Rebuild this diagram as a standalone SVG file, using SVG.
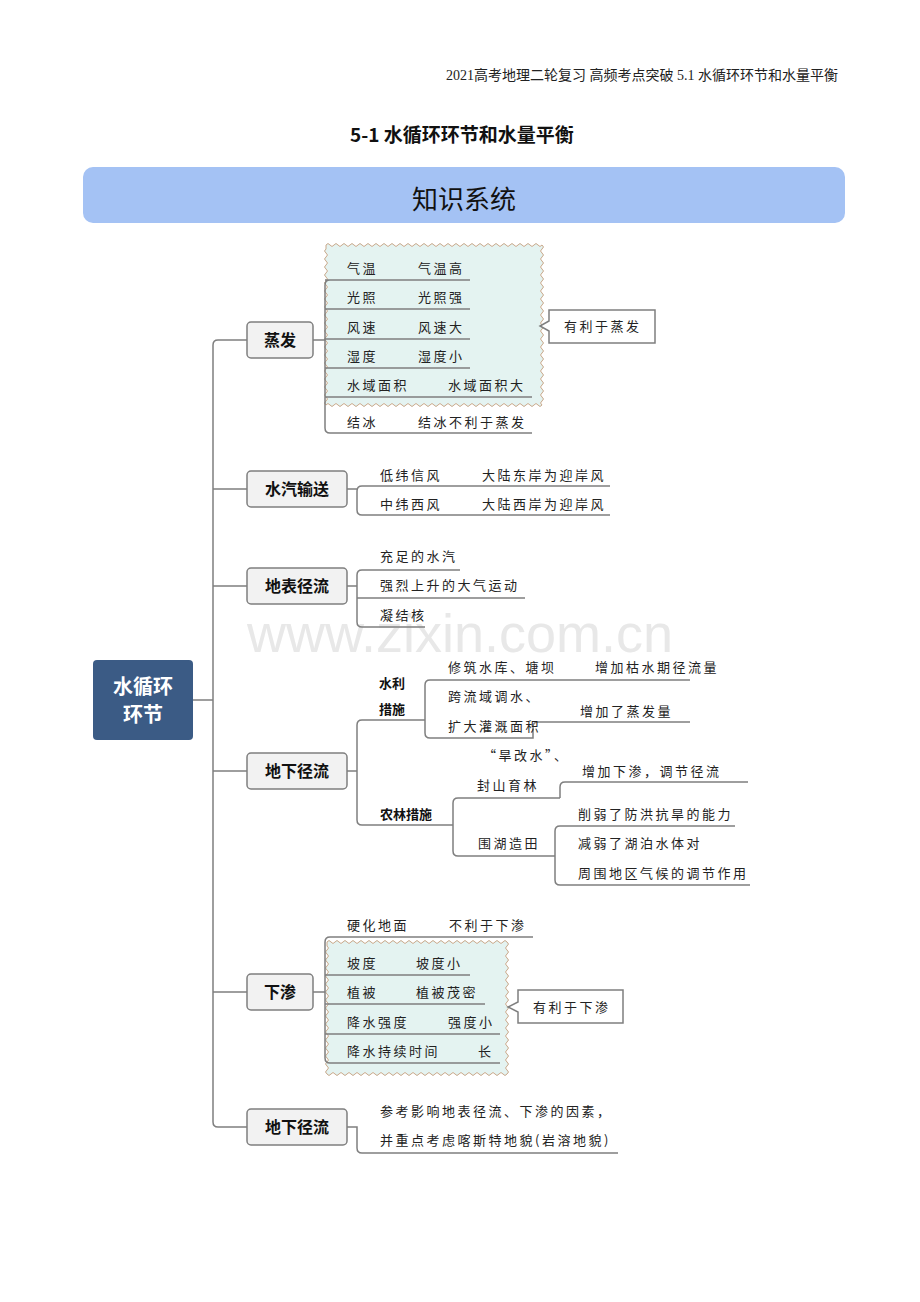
<svg xmlns="http://www.w3.org/2000/svg" width="920" height="1302" viewBox="0 0 920 1302">
<style>
.t{font-family:"Noto Sans CJK SC","Noto Sans CJK SC",sans-serif;font-size:13px;letter-spacing:2.5px;fill:#222}
.b{font-family:"Noto Sans CJK SC",sans-serif;font-size:16px;font-weight:bold;fill:#111;text-anchor:middle}
.bb{font-family:"Noto Sans CJK SC",sans-serif;font-size:13px;font-weight:bold;fill:#111}
.box{fill:#f2f2f2;stroke:#7f7f7f;stroke-width:1.5}
.ln{fill:none;stroke:#7f7f7f;stroke-width:1.5}
.wv{fill:#e4f3f1;stroke:#c9a88a;stroke-width:1}
.co{fill:#fff;stroke:#7f7f7f;stroke-width:1.5}
</style>
<rect width="920" height="1302" fill="#fff"/>
<text x="838" y="80" text-anchor="end" style="font-family:'Liberation Serif','Noto Sans CJK SC',serif;font-size:14px;fill:#222">2021高考地理二轮复习 高频考点突破 5.1 水循环环节和水量平衡</text>
<text x="462" y="142" text-anchor="middle" style="font-family:'Noto Sans CJK SC',sans-serif;font-size:19px;font-weight:bold;fill:#111">5-1   水循环环节和水量平衡</text>
<rect x="83" y="167" width="762" height="56" rx="10" fill="#a4c2f4"/>
<text x="464" y="209" text-anchor="middle" style="font-family:'Noto Sans CJK SC',sans-serif;font-size:26px;fill:#111">知识系统</text>
<text x="460" y="652" text-anchor="middle" style="font-family:'Liberation Sans',sans-serif;font-size:54px;fill:#e8e8e8">www.zixin.com.cn</text>

<g id="wave1"><path class="wv" d="M326,245 q2,-3 4,0 t4,0 t4,0 t4,0 t4,0 t4,0 t4,0 t4,0 t4,0 t4,0 t4,0 t4,0 t4,0 t4,0 t4,0 t4,0 t4,0 t4,0 t4,0 t4,0 t4,0 t4,0 t4,0 t4,0 t4,0 t4,0 t4,0 t4,0 t4,0 t4,0 t4,0 t4,0 t4,0 t4,0 t4,0 t4,0 t4,0 t4,0 t4,0 t4,0 t4,0 t4,0 t4,0 t4,0 t4,0 t4,0 t4,0 t4,0 t4,0 t4,0 t4,0 t4,0 t4,0 t4,0 q3,2 0,4 t0,4 t0,4 t0,4 t0,4 t0,4 t0,4 t0,4 t0,4 t0,4 t0,4 t0,4 t0,4 t0,4 t0,4 t0,4 t0,4 t0,4 t0,4 t0,4 t0,4 t0,4 t0,4 t0,4 t0,4 t0,4 t0,4 t0,4 t0,4 t0,4 t0,4 t0,4 t0,4 t0,4 t0,4 t0,4 t0,4 t0,4 t0,4 t0,4 q-2,3 -4,0 t-4,0 t-4,0 t-4,0 t-4,0 t-4,0 t-4,0 t-4,0 t-4,0 t-4,0 t-4,0 t-4,0 t-4,0 t-4,0 t-4,0 t-4,0 t-4,0 t-4,0 t-4,0 t-4,0 t-4,0 t-4,0 t-4,0 t-4,0 t-4,0 t-4,0 t-4,0 t-4,0 t-4,0 t-4,0 t-4,0 t-4,0 t-4,0 t-4,0 t-4,0 t-4,0 t-4,0 t-4,0 t-4,0 t-4,0 t-4,0 t-4,0 t-4,0 t-4,0 t-4,0 t-4,0 t-4,0 t-4,0 t-4,0 t-4,0 t-4,0 t-4,0 t-4,0 t-4,0 q-3,-2 0,-4 t0,-4 t0,-4 t0,-4 t0,-4 t0,-4 t0,-4 t0,-4 t0,-4 t0,-4 t0,-4 t0,-4 t0,-4 t0,-4 t0,-4 t0,-4 t0,-4 t0,-4 t0,-4 t0,-4 t0,-4 t0,-4 t0,-4 t0,-4 t0,-4 t0,-4 t0,-4 t0,-4 t0,-4 t0,-4 t0,-4 t0,-4 t0,-4 t0,-4 t0,-4 t0,-4 t0,-4 t0,-4 t0,-4 Z"/></g>
<g id="wave2"><path class="wv" d="M327,942 q2,-3 4,0 t4,0 t4,0 t4,0 t4,0 t4,0 t4,0 t4,0 t4,0 t4,0 t4,0 t4,0 t4,0 t4,0 t4,0 t4,0 t4,0 t4,0 t4,0 t4,0 t4,0 t4,0 t4,0 t4,0 t4,0 t4,0 t4,0 t4,0 t4,0 t4,0 t4,0 t4,0 t4,0 t4,0 t4,0 t4,0 t4,0 t4,0 t4,0 t4,0 t4,0 t4,0 t4,0 t4,0 t4,0 q3,2 0,4 t0,4 t0,4 t0,4 t0,4 t0,4 t0,4 t0,4 t0,4 t0,4 t0,4 t0,4 t0,4 t0,4 t0,4 t0,4 t0,4 t0,4 t0,4 t0,4 t0,4 t0,4 t0,4 t0,4 t0,4 t0,4 t0,4 t0,4 t0,4 t0,4 t0,4 t0,4 t0,4 q-2,3 -4,0 t-4,0 t-4,0 t-4,0 t-4,0 t-4,0 t-4,0 t-4,0 t-4,0 t-4,0 t-4,0 t-4,0 t-4,0 t-4,0 t-4,0 t-4,0 t-4,0 t-4,0 t-4,0 t-4,0 t-4,0 t-4,0 t-4,0 t-4,0 t-4,0 t-4,0 t-4,0 t-4,0 t-4,0 t-4,0 t-4,0 t-4,0 t-4,0 t-4,0 t-4,0 t-4,0 t-4,0 t-4,0 t-4,0 t-4,0 t-4,0 t-4,0 t-4,0 t-4,0 t-4,0 q-3,-2 0,-4 t0,-4 t0,-4 t0,-4 t0,-4 t0,-4 t0,-4 t0,-4 t0,-4 t0,-4 t0,-4 t0,-4 t0,-4 t0,-4 t0,-4 t0,-4 t0,-4 t0,-4 t0,-4 t0,-4 t0,-4 t0,-4 t0,-4 t0,-4 t0,-4 t0,-4 t0,-4 t0,-4 t0,-4 t0,-4 t0,-4 t0,-4 Z"/></g>

<g id="connectors">
<path class="ln" d="M193,700 H213 M247,340 H218 Q213,340 213,345 V1122 Q213,1127 218,1127 H247 M213,489 H247 M213,586 H247 M213,771 H247 M213,992 H247"/>
<!-- 蒸发 -->
<path class="ln" d="M313,340 H325 M330,280 Q325,280 325,285 V428 Q325,433 330,433 H532 M325,280 H470 M325,309 H470 M325,339 H470 M325,368 H470 M325,397 H532"/>
<!-- 水汽输送 -->
<path class="ln" d="M347,489 H357 M610,486 H362 Q357,486 357,491 V510 Q357,515 362,515 H610"/>
<!-- 地表径流 -->
<path class="ln" d="M347,586 H357 M460,570 H362 Q357,570 357,575 V622 Q357,627 362,627 H425 M357,598 H525"/>
<!-- 地下径流 -->
<path class="ln" d="M347,771 H357 M425,720 H362 Q357,720 357,725 V820 Q357,825 362,825 H453"/>
<path class="ln" d="M690,680 H430 Q425,680 425,685 V733 Q425,738 430,738 H533 V727 Q533,722 538,722 H690"/>
<path class="ln" d="M560,798 H458 Q453,798 453,803 V851 Q453,856 458,856 H555 M560,798 V787 Q560,782 565,782 H748"/>
<path class="ln" d="M735,826 H560 Q555,826 555,831 V880 Q555,885 560,885 H750"/>
<!-- 下渗 -->
<path class="ln" d="M313,992 H325 M533,937 H330 Q325,937 325,942 V1058 Q325,1063 330,1063 H500 M325,975 H470 M325,1004 H485 M325,1034 H500"/>
<!-- 地下径流2 -->
<path class="ln" d="M347,1127 H357 V1148 Q357,1153 362,1153 H618"/>
</g>

<g id="root"><rect x="93" y="660" width="100" height="80" rx="4" fill="#3b5b85"/>
<text x="143" y="694" text-anchor="middle" style="font-family:'Noto Sans CJK SC',sans-serif;font-size:20px;font-weight:bold;fill:#fff">水循环</text>
<text x="143" y="722" text-anchor="middle" style="font-family:'Noto Sans CJK SC',sans-serif;font-size:20px;font-weight:bold;fill:#fff">环节</text></g>

<g id="n1"><rect class="box" x="247" y="322" width="66" height="36" rx="4"/><text class="b" x="280" y="346">蒸发</text></g>
<g id="n2"><rect class="box" x="247" y="471" width="100" height="36" rx="4"/><text class="b" x="297" y="495">水汽输送</text></g>
<g id="n3"><rect class="box" x="247" y="568" width="100" height="36" rx="4"/><text class="b" x="297" y="592">地表径流</text></g>
<g id="n4"><rect class="box" x="247" y="753" width="100" height="36" rx="4"/><text class="b" x="297" y="777">地下径流</text></g>
<g id="n5"><rect class="box" x="247" y="974" width="66" height="36" rx="4"/><text class="b" x="280" y="998">下渗</text></g>
<g id="n6"><rect class="box" x="247" y="1109" width="100" height="36" rx="4"/><text class="b" x="297" y="1133">地下径流</text></g>

<g id="evap-items">
<text class="t" x="347" y="273">气温</text><text class="t" x="418" y="273">气温高</text>
<text class="t" x="347" y="302">光照</text><text class="t" x="418" y="302">光照强</text>
<text class="t" x="347" y="332">风速</text><text class="t" x="418" y="332">风速大</text>
<text class="t" x="347" y="361">湿度</text><text class="t" x="418" y="361">湿度小</text>
<text class="t" x="347" y="390">水域面积</text><text class="t" x="448" y="390">水域面积大</text>
<text class="t" x="347" y="427">结冰</text><text class="t" x="418" y="427">结冰不利于蒸发</text>
</g>
<g id="callout1"><path class="co" d="M549,310 H655 V343 H549 V331 L540,326 L549,321 Z"/><text class="t" x="564" y="331">有利于蒸发</text></g>

<g id="vapor-items">
<text class="t" x="380" y="480">低纬信风</text><text class="t" x="482" y="480">大陆东岸为迎岸风</text>
<text class="t" x="380" y="509">中纬西风</text><text class="t" x="482" y="509">大陆西岸为迎岸风</text>
</g>
<g id="surface-items">
<text class="t" x="380" y="561">充足的水汽</text>
<text class="t" x="380" y="590">强烈上升的大气运动</text>
<text class="t" x="380" y="620">凝结核</text>
</g>
<g id="ground-items">
<text class="bb" x="379" y="688">水利</text><text class="bb" x="379" y="714">措施</text>
<text class="t" x="448" y="672">修筑水库、塘坝</text><text class="t" x="595" y="672">增加枯水期径流量</text>
<text class="t" x="448" y="701">跨流域调水、</text><text class="t" x="448" y="731">扩大灌溉面积</text>
<text class="t" x="580" y="716">增加了蒸发量</text>
<text class="bb" x="380" y="819">农林措施</text>
<text class="t" x="483" y="760">“旱改水”、</text><text class="t" x="477" y="790">封山育林</text>
<text class="t" x="582" y="776">增加下渗，调节径流</text>
<text class="t" x="478" y="848">围湖造田</text>
<text class="t" x="578" y="819">削弱了防洪抗旱的能力</text>
<text class="t" x="578" y="848">减弱了湖泊水体对</text>
<text class="t" x="578" y="878">周围地区气候的调节作用</text>
</g>
<g id="infil-items">
<text class="t" x="347" y="930">硬化地面</text><text class="t" x="449" y="930">不利于下渗</text>
<text class="t" x="347" y="968">坡度</text><text class="t" x="416" y="968">坡度小</text>
<text class="t" x="347" y="997">植被</text><text class="t" x="416" y="997">植被茂密</text>
<text class="t" x="347" y="1027">降水强度</text><text class="t" x="448" y="1027">强度小</text>
<text class="t" x="347" y="1056">降水持续时间</text><text class="t" x="478" y="1056">长</text>
</g>
<g id="callout2"><path class="co" d="M518,990 H623 V1023 H518 V1012 L508,1007 L518,1002 Z"/><text class="t" x="533" y="1012">有利于下渗</text></g>
<g id="ground2-items">
<text class="t" x="380" y="1116">参考影响地表径流、下渗的因素，</text>
<text class="t" x="380" y="1145">并重点考虑喀斯特地貌(岩溶地貌)</text>
</g>
</svg>
